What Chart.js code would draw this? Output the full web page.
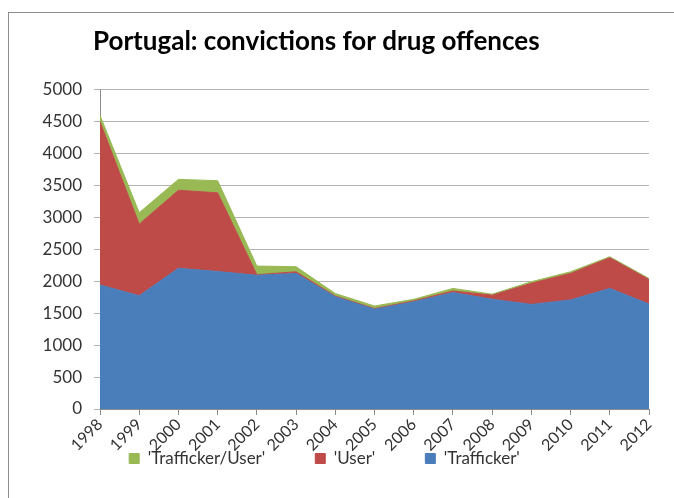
<!DOCTYPE html>
<html>
<head>
<meta charset="utf-8">
<script src="https://cdn.jsdelivr.net/npm/chart.js@4/dist/chart.umd.min.js"></script>
<style>
  html, body { margin: 0; padding: 0; background: #fff; }
  #wrap { position: relative; width: 674px; height: 498px; overflow: hidden; }
  #frame { position: absolute; left: 8px; top: 12px; width: 700px; height: 520px; border: 1px solid #8c8c8c; box-sizing: border-box; }
  canvas { position: absolute; left: 0; top: 0; }
</style>
</head>
<body>
<div id="wrap">
  <div id="frame"></div>
  <canvas id="chart" width="674" height="498"></canvas>
</div>
<script>
const years = ["1998", "1999", "2000", "2001", "2002", "2003", "2004", "2005",
               "2006", "2007", "2008", "2009", "2010", "2011", "2012"];
const trafficker = [1940, 1770, 2200, 2150, 2090, 2120, 1755, 1560, 1675, 1820, 1715, 1635, 1705, 1885, 1640];
const user = [2550, 1120, 1220, 1230, 10, 25, 10, 10, 15, 25, 65, 330, 415, 480, 385];
const traffickerUser = [100, 180, 170, 190, 135, 80, 40, 40, 25, 40, 15, 25, 25, 15, 15];
const yTicks = [0, 500, 1000, 1500, 2000, 2500, 3000, 3500, 4000, 4500, 5000];

const font = "Lato, 'Open Sans', sans-serif";

function area(label, data, color, fill) {
    return {
        label,
        data,
        backgroundColor: color,
        borderColor: color,
        borderWidth: 1,
        pointRadius: 0,
        tension: 0,
        fill
    };
}

const ctx = document.getElementById("chart").getContext("2d");

new Chart(ctx, {
    type: "line",
    data: {
        labels: years,
        datasets: [
            area("'Trafficker'", trafficker, "#4a7ebb", "origin"),
            area("'User'", user, "#be4b48", "-1"),
            area("'Trafficker/User'", traffickerUser, "#98b954", "-1")
        ]
    },
    options: {
        responsive: false,
        animation: false,
        layout: { padding: { left: 0, right: 25, top: 0, bottom: 24 } },
        plugins: {
            title: {
                display: true,
                text: "Portugal: convictions for drug offences",
                color: "#000",
                font: { family: font, size: 26, weight: "bold" },
                padding: { top: 26, bottom: 32 },
                align: "start",
                fullSize: true
            },
            legend: {
                position: "bottom",
                reverse: true,
                maxHeight: 20,
                labels: {
                    color: "#333",
                    font: { family: font, size: 17 },
                    boxWidth: 10,
                    boxHeight: 10,
                    padding: 50
                }
            },
            tooltip: { enabled: false }
        },
        scales: {
            x: {
                offset: false,
                afterFit: axis => { axis.height = 45; },
                grid: {
                    drawOnChartArea: false,
                    color: "#8c8c8c",
                    tickLength: 6
                },
                border: { color: "#8c8c8c" },
                ticks: {
                    color: "#333",
                    font: { family: font, size: 16 },
                    minRotation: 45,
                    maxRotation: 45,
                    padding: 0,
                    autoSkip: false
                }
            },
            y: {
                stacked: true,
                min: 0,
                max: 5000,
                afterBuildTicks: axis => { axis.ticks = yTicks.map(v => ({ value: v })); },
                afterFit: axis => { axis.width = 100; },
                grid: {
                    color: "#b3b3b3",
                    tickLength: 6
                },
                border: { color: "#8c8c8c" },
                ticks: {
                    color: "#333",
                    font: { family: font, size: 17 },
                    padding: 12,
                    callback: v => String(v)
                }
            }
        }
    },
    plugins: [{
        id: "placement",
        afterLayout(chart) {
            // legend row sits at y ~458 like the original
            chart.legend.top = 400;
            chart.legend.bottom = 498;
            chart.legend.height = 98;
        },
        beforeDraw(chart) {
            chart.titleBlock.left = 93;
        }
    }]
});
</script>
</body>
</html>
